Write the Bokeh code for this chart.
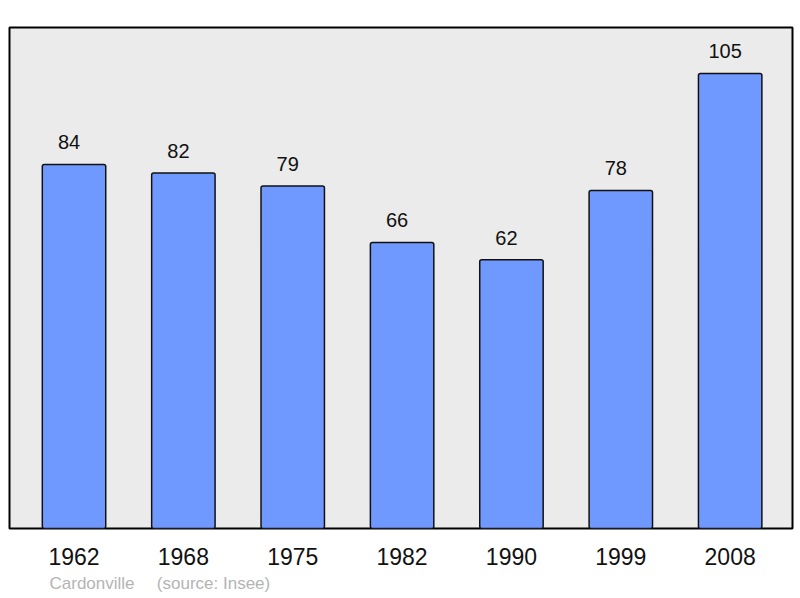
from bokeh.plotting import figure
from bokeh.models import Range1d, FixedTicker, Title, ColumnDataSource
from bokeh.core.properties import value
from bokeh.embed import file_html
from bokeh.resources import INLINE

years = ["1962", "1968", "1975", "1982", "1990", "1999", "2008"]
population = [84, 82, 79, 66, 62, 78, 105]
place = "Cardonville"
source_note = "(source: Insee)"

idx = list(range(len(years)))
src = ColumnDataSource(dict(x=idx, top=population, lbl=[str(v) for v in population]))

FONT = "Liberation Sans"

p = figure(width=800, height=598, output_backend="svg", toolbar_location=None,
           x_range=Range1d(-0.59, 6.57), y_range=Range1d(0, 115.6),
           min_border_left=9, min_border_right=8, min_border_top=27, min_border_bottom=70)
p.background_fill_color = "#ebebeb"
p.border_fill_color = "white"
p.outline_line_color = "black"
p.outline_line_width = 2
p.grid.visible = False
p.yaxis.visible = False

p.vbar(x="x", top="top", width=0.58, bottom=0, source=src,
       fill_color="#7099ff", line_color="#111111", line_width=1.5, border_radius=2)
p.text(x="x", y="top", text="lbl", source=src, x_offset=-5, y_offset=-22,
       text_align="center", text_baseline="middle",
       text_font=value(FONT), text_font_size="20px", text_color="#111111")

ax = p.xaxis[0]
ax.ticker = FixedTicker(ticks=idx)
ax.major_label_overrides = {i: y for i, y in zip(idx, years)}
ax.axis_line_color = None
ax.major_tick_line_color = None
ax.minor_tick_line_color = None
ax.major_label_text_font = FONT
ax.major_label_text_font_size = "23px"
ax.major_label_text_color = "#111111"
ax.major_label_standoff = 13

note = Title(text=place + "\u00a0" * 4 + "\u2009" + source_note, align="left", offset=40,
             text_font=FONT, text_font_size="17px", text_font_style="normal",
             text_color="#b4b4b4", standoff=9)
p.add_layout(note, "below")

open("out.html", "w").write(file_html(p, INLINE))
